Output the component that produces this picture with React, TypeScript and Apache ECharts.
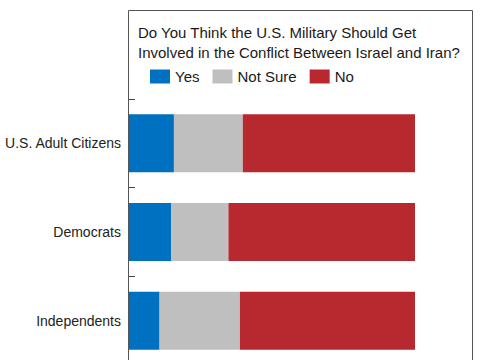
import React, { useEffect, useRef } from "react";
import * as echarts from "echarts";

const categories = ["U.S. Adult Citizens", "Democrats", "Independents"];
const yesValues = [16, 15, 11];
const notSureValues = [24, 20, 28];
const noValues = [60, 65, 61];
const titleText =
  "Do You Think the U.S. Military Should Get\nInvolved in the Conflict Between Israel and Iran?";

const FONT = "'Liberation Sans', Arial, sans-serif";

export default function App() {
  const ref = useRef<HTMLDivElement>(null);
  useEffect(() => {
    if (!ref.current) return;
    const chart = echarts.init(ref.current, undefined, { renderer: "svg" });
    const mk = (name: string, data: number[], color: string) => ({
      name,
      type: "bar",
      stack: "total",
      data,
      barWidth: 58,
      itemStyle: { color },
      emphasis: { disabled: true },
    });
    chart.setOption({
      animation: false,
      backgroundColor: "#ffffff",
      textStyle: { fontFamily: FONT },
      title: {
        text: titleText,
        left: 133,
        top: 17,
        textStyle: {
          fontFamily: FONT,
          fontSize: 15,
          fontWeight: "normal",
          lineHeight: 20,
          color: "#1a1a1a",
        },
      },
      legend: {
        left: 150,
        top: 69,
        padding: 0,
        icon: "rect",
        itemWidth: 20,
        itemHeight: 14,
        itemGap: 13,
        selectedMode: false,
        textStyle: { fontFamily: FONT, fontSize: 15, color: "#1a1a1a" },
        data: ["Yes", "Not Sure", "No"],
      },
      graphic: [
        {
          type: "rect",
          shape: { x: 128.5, y: 10.5, width: 344, height: 420 },
          style: { fill: "none", stroke: "#555555", lineWidth: 1 },
          z: 100,
        },
      ],
      grid: { left: 128, top: 99, width: 287, height: 266, containLabel: false },
      xAxis: { type: "value", min: 0, max: 100, show: false },
      yAxis: {
        type: "category",
        inverse: true,
        data: categories,
        axisLine: { show: true, lineStyle: { color: "#444444", width: 1 } },
        axisTick: { show: true, inside: true, length: 7, lineStyle: { color: "#444444" } },
        axisLabel: { fontFamily: FONT, fontSize: 14, color: "#222222", margin: 7 },
        splitLine: { show: false },
      },
      series: [
        mk("Yes", yesValues, "#0070C0"),
        mk("Not Sure", notSureValues, "#BFBFBF"),
        mk("No", noValues, "#B8282F"),
      ],
    });
    return () => chart.dispose();
  }, []);
  return (
    <div
      style={{
        position: "absolute",
        left: 0,
        top: 0,
        width: 485,
        height: 360,
        overflow: "hidden",
      }}
    >
      <div ref={ref} style={{ width: 485, height: 440 }} />
    </div>
  );
}
